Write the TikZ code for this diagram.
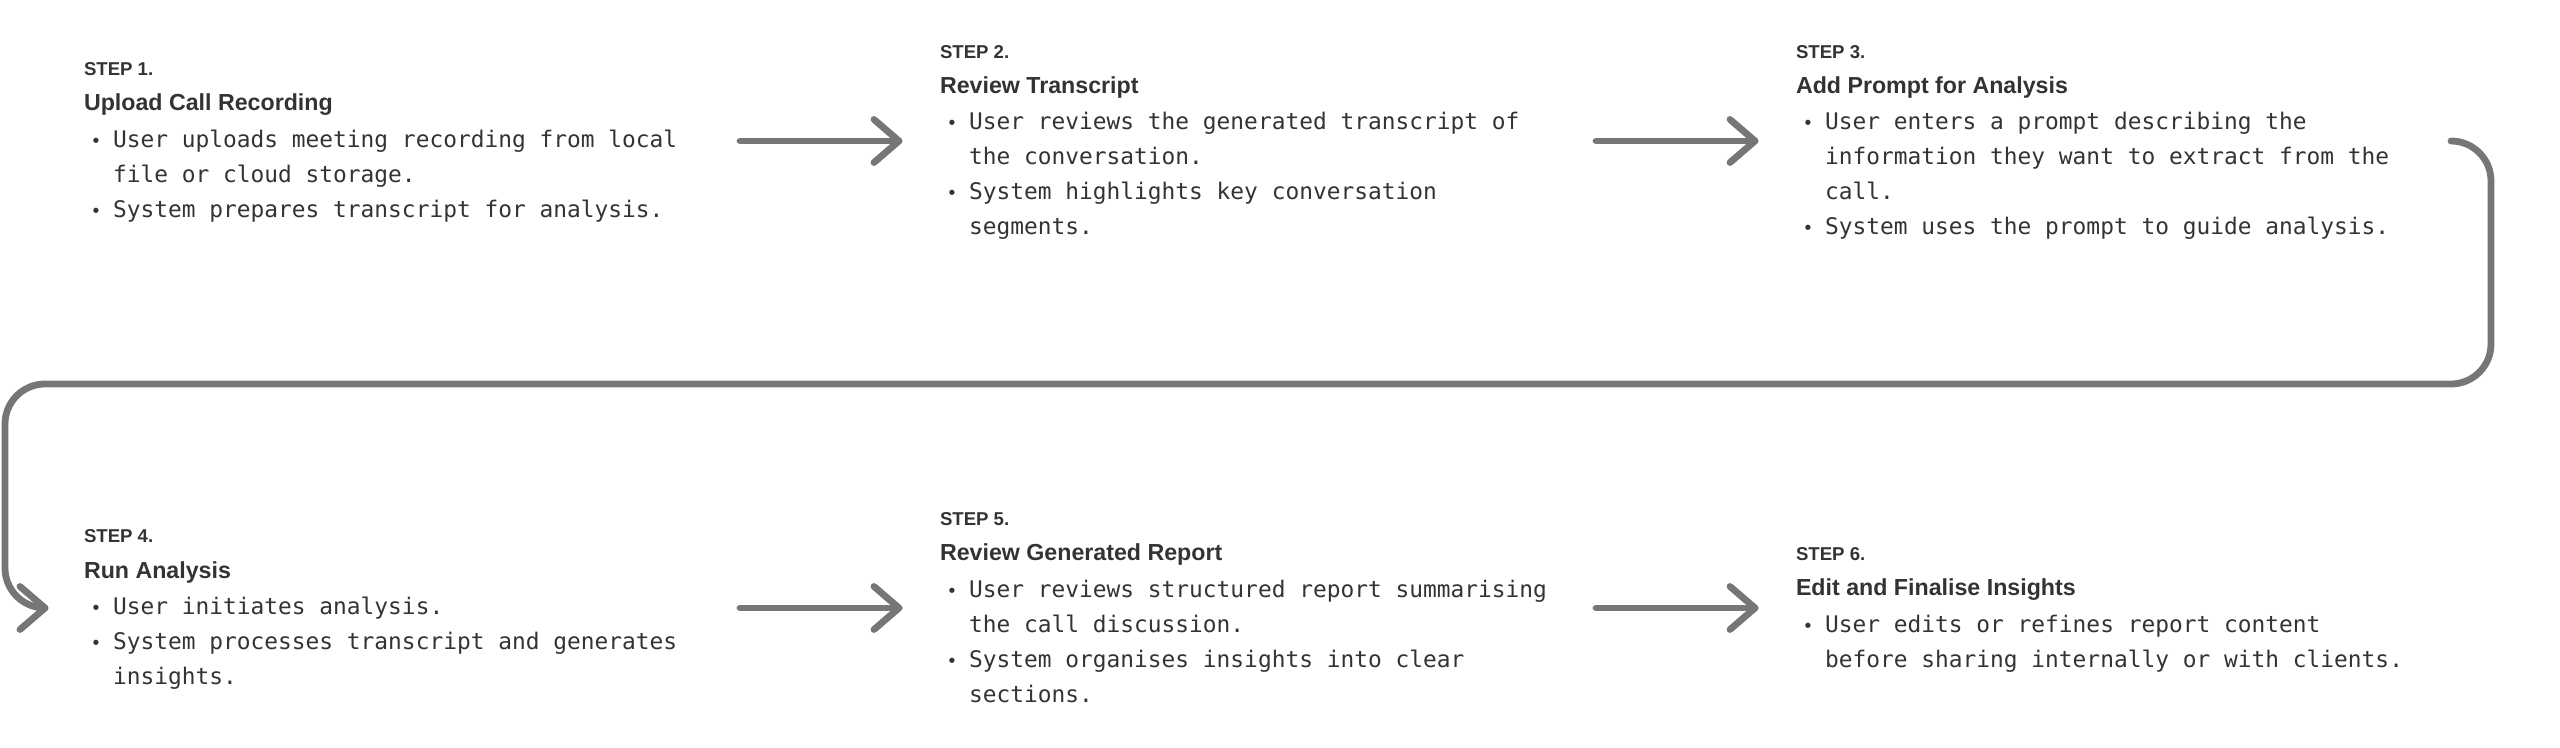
\documentclass[tikz,border=0pt]{standalone}
\usepackage{fontspec}
\setmainfont{Liberation Sans}
\newfontfamily\monof{DejaVu Sans Mono}
\definecolor{txt}{HTML}{333333}
\definecolor{conncol}{HTML}{767676}
\tikzset{
  lbl/.style={anchor=base west, inner sep=0pt, outer sep=0pt, text=txt, font=\fontsize{9.3}{11}\selectfont\bfseries},
  ttl/.style={anchor=base west, inner sep=0pt, outer sep=0pt, text=txt, font=\fontsize{11.6}{14}\selectfont\bfseries},
  body/.style={anchor=base west, inner sep=0pt, outer sep=0pt, text=txt, font=\monof\fontsize{11.43}{14}\selectfont},
  bul/.style={anchor=base, inner sep=0pt, outer sep=0pt, text=txt, font=\monof\fontsize{9}{11}\selectfont},
  conn/.style={draw=conncol, line width=3.4pt, line cap=round, line join=round},
}
\begin{document}
\begin{tikzpicture}[x=0.5pt,y=-0.5pt]
\useasboundingbox (0,0) rectangle (2560,748);

% ---------- STEP 1 ----------
\node[lbl]  (s1l) at (84,76)  {STEP 1.};
\node[ttl]  (s1t) at (84,111) {Upload Call Recording};
\node[bul]  (s1b1) at (96,147.5) {•};
\node[body] (s1a) at (113,147.5) {User uploads meeting recording from local};
\node[body] (s1b) at (113,182.5) {file or cloud storage.};
\node[bul]  (s1b2) at (96,217.5) {•};
\node[body] (s1c) at (113,217.5) {System prepares transcript for analysis.};

% ---------- STEP 2 ----------
\node[lbl]  (s2l) at (940,58.5) {STEP 2.};
\node[ttl]  (s2t) at (940,93.5) {Review Transcript};
\node[bul]  (s2b1) at (952,130) {•};
\node[body] (s2a) at (969,130) {User reviews the generated transcript of};
\node[body] (s2b) at (969,165) {the conversation.};
\node[bul]  (s2b2) at (952,200) {•};
\node[body] (s2c) at (969,200) {System highlights key conversation};
\node[body] (s2d) at (969,235) {segments.};

% ---------- STEP 3 ----------
\node[lbl]  (s3l) at (1796,58.5) {STEP 3.};
\node[ttl]  (s3t) at (1796,93.5) {Add Prompt for Analysis};
\node[bul]  (s3b1) at (1808,130) {•};
\node[body] (s3a) at (1825,130) {User enters a prompt describing the};
\node[body] (s3b) at (1825,165) {information they want to extract from the};
\node[body] (s3c) at (1825,200) {call.};
\node[bul]  (s3b2) at (1808,235) {•};
\node[body] (s3d) at (1825,235) {System uses the prompt to guide analysis.};

% ---------- STEP 4 ----------
\node[lbl]  (s4l) at (84,543) {STEP 4.};
\node[ttl]  (s4t) at (84,578) {Run Analysis};
\node[bul]  (s4b1) at (96,614.5) {•};
\node[body] (s4a) at (113,614.5) {User initiates analysis.};
\node[bul]  (s4b2) at (96,649.5) {•};
\node[body] (s4b) at (113,649.5) {System processes transcript and generates};
\node[body] (s4c) at (113,684.5) {insights.};

% ---------- STEP 5 ----------
\node[lbl]  (s5l) at (940,525.5) {STEP 5.};
\node[ttl]  (s5t) at (940,560.5) {Review Generated Report};
\node[bul]  (s5b1) at (952,597) {•};
\node[body] (s5a) at (969,597) {User reviews structured report summarising};
\node[body] (s5b) at (969,632) {the call discussion.};
\node[bul]  (s5b2) at (952,667) {•};
\node[body] (s5c) at (969,667) {System organises insights into clear};
\node[body] (s5d) at (969,702) {sections.};

% ---------- STEP 6 ----------
\node[lbl]  (s6l) at (1796,560.5) {STEP 6.};
\node[ttl]  (s6t) at (1796,595.5) {Edit and Finalise Insights};
\node[bul]  (s6b1) at (1808,632) {•};
\node[body] (s6a) at (1825,632) {User edits or refines report content};
\node[body] (s6b) at (1825,667) {before sharing internally or with clients.};

% ---------- connectors ----------
\coordinate (a1s) at (740,141);  \coordinate (a1e) at (899,141);
\coordinate (a2s) at (1596,141); \coordinate (a2e) at (1755,141);
\coordinate (a4s) at (740,608);  \coordinate (a4e) at (899,608);
\coordinate (a5s) at (1596,608); \coordinate (a5e) at (1755,608);
\coordinate (lps) at (2451,141);
\coordinate (lc1) at (2491,141);
\coordinate (lc2) at (2491,384);
\coordinate (lc3) at (5,384);
\coordinate (lc4) at (5,608);
\coordinate (lpe) at (45,608);

\draw[conn] (a1s) -- (a1e);
\draw[conn] (a1e) ++(-25,-21.5) -- (a1e) -- ++(-25,21.5);
\draw[conn] (a2s) -- (a2e);
\draw[conn] (a2e) ++(-25,-21.5) -- (a2e) -- ++(-25,21.5);
\draw[conn] (a4s) -- (a4e);
\draw[conn] (a4e) ++(-25,-21.5) -- (a4e) -- ++(-25,21.5);
\draw[conn] (a5s) -- (a5e);
\draw[conn] (a5e) ++(-25,-21.5) -- (a5e) -- ++(-25,21.5);

\draw[conn, rounded corners=20pt] (lps) -- (lc1) -- (lc2) -- (lc3) -- (lc4) -- (lpe);
\draw[conn] (lpe) ++(-25,-21.5) -- (lpe) -- ++(-25,21.5);
\end{tikzpicture}
\end{document}
